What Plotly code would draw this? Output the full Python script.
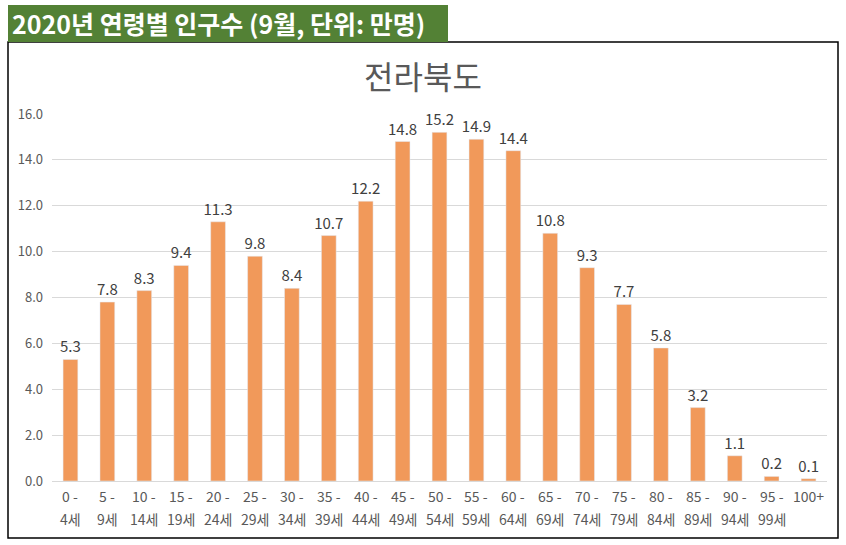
import plotly.graph_objects as go

# 전라북도 연령별 인구수 (2020년 9월, 단위: 만명)
age_top = ["0 -", "5 -", "10 -", "15 -", "20 -", "25 -", "30 -", "35 -", "40 -", "45 -",
           "50 -", "55 -", "60 -", "65 -", "70 -", "75 -", "80 -", "85 -", "90 -", "95 -",
           "100+"]
age_bottom = ["4세", "9세", "14세", "19세", "24세", "29세", "34세", "39세", "44세", "49세",
              "54세", "59세", "64세", "69세", "74세", "79세", "84세", "89세", "94세", "99세",
              ""]
population = [5.3, 7.8, 8.3, 9.4, 11.3, 9.8, 8.4, 10.7, 12.2, 14.8,
              15.2, 14.9, 14.4, 10.8, 9.3, 7.7, 5.8, 3.2, 1.1, 0.2, 0.1]
y_ticks = [0, 2, 4, 6, 8, 10, 12, 14, 16]

W, H = 846, 545
ML, MR, MT, MB = 52, 19, 114, 64
PW, PH = W - ML - MR, H - MT - MB


def px_x(x):
    return (x - ML) / PW


def px_y(y):
    return (H - MB - y) / PH


FONT = "Noto Sans CJK KR"
cats = list(range(len(age_top)))

fig = go.Figure(
    go.Bar(
        x=cats,
        y=population,
        marker_color="#F1995A",
        text=[f"{v:.1f}" for v in population],
        textposition="outside",
        constraintext="none",
        textfont=dict(size=15, color="#404040", family=FONT),
        cliponaxis=False,
        hoverinfo="skip",
    )
)

# x 라벨 두 줄 (엑셀처럼 줄 간격 넓게)
annotations = []
for i in cats:
    annotations.append(dict(text=age_top[i], xref="x", yref="paper", x=i, y=px_y(496),
                            xanchor="center", yanchor="middle", showarrow=False,
                            font=dict(size=14, color="#595959", family=FONT)))
    if age_bottom[i]:
        annotations.append(dict(text=age_bottom[i], xref="x", yref="paper", x=i, y=px_y(519),
                                xanchor="center", yanchor="middle", showarrow=False,
                                font=dict(size=14, color="#595959", family=FONT)))

annotations.append(dict(text="<b>2020년 연령별 인구수 (9월, 단위: 만명)</b>",
                        xref="paper", yref="paper", x=px_x(10), y=px_y(23),
                        xanchor="left", yanchor="middle", showarrow=False,
                        font=dict(size=25, color="white", family=FONT)))

fig.update_layout(
    width=W,
    height=H,
    margin=dict(l=ML, r=MR, t=MT, b=MB),
    paper_bgcolor="white",
    plot_bgcolor="white",
    bargap=0.6,
    showlegend=False,
    font=dict(family=FONT, color="#595959"),
    title=dict(
        text="전라북도",
        x=0.5,
        xanchor="center",
        y=1 - 78 / H,
        yanchor="middle",
        font=dict(size=32, color="#595959", family=FONT),
    ),
    xaxis=dict(
        tickvals=cats,
        range=[-0.5, len(cats) - 0.5],
        showgrid=False,
        showline=True,
        linecolor="#d9d9d9",
        ticks="",
        showticklabels=False,
    ),
    yaxis=dict(
        range=[0, 16],
        tickvals=y_ticks,
        ticktext=[f"{v:.1f}" for v in y_ticks],
        showgrid=True,
        gridcolor="#d9d9d9",
        zeroline=False,
        ticks="",
        tickfont=dict(size=13, color="#595959"),
        ticklabelstandoff=8,
    ),
    shapes=[
        dict(type="rect", xref="paper", yref="paper",
             x0=px_x(8), x1=px_x(838), y0=px_y(538), y1=px_y(42),
             line=dict(color="black", width=1.5), layer="below"),
        dict(type="rect", xref="paper", yref="paper",
             x0=px_x(8), x1=px_x(448), y0=px_y(42), y1=px_y(5),
             fillcolor="#538135", line=dict(width=0)),
    ],
    annotations=annotations,
)

fig.write_html("out.html", config={"displayModeBar": False},
               post_script="document.body.style.margin = '0';")
